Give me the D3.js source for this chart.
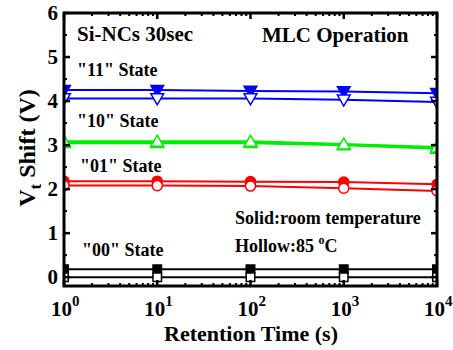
<!DOCTYPE html>
<html>
<head>
<meta charset="utf-8">
<script src="https://cdn.jsdelivr.net/npm/d3@7"></script>
<style>
  body { margin: 0; background: #fff; }
</style>
</head>
<body>
<svg id="chart" width="453" height="350"></svg>
<script>
// Retention times (s)
const times = [1, 10, 100, 1000, 10000];

// Vt shift (V), solid = room temperature, hollow = 85 C
const s11Solid = [4.25, 4.25, 4.23, 4.22, 4.18];
const s11Hollow = [4.06, 4.06, 4.06, 4.03, 3.98];
const s10Solid = [3.05, 3.05, 3.05, 3.0, 2.92];
const s10Hollow = [3.08, 3.08, 3.08, 3.02, 2.95];
const s01Solid = [2.18, 2.18, 2.17, 2.16, 2.11];
const s01Hollow = [2.08, 2.08, 2.07, 2.02, 1.96];
const s00Solid = [0.18, 0.18, 0.18, 0.18, 0.18];
const s00Hollow = [0.0, 0.0, 0.0, 0.0, 0.0];

const yTicks = [0, 1, 2, 3, 4, 5, 6];
const xTicks = [1, 10, 100, 1000, 10000];

const series = [
  { vals: s11Solid, color: "#0000ff", shape: "triDown", filled: true },
  { vals: s11Hollow, color: "#0000ff", shape: "triDown", filled: false },
  { vals: s10Solid, color: "#00ee00", shape: "triUp", filled: true },
  { vals: s10Hollow, color: "#00ee00", shape: "triUp", filled: false },
  { vals: s01Solid, color: "#ff0000", shape: "circle", filled: true },
  { vals: s01Hollow, color: "#ff0000", shape: "circle", filled: false },
  { vals: s00Solid, color: "#000000", shape: "square", filled: true },
  { vals: s00Hollow, color: "#000000", shape: "square", filled: false }
];

const FONT = "Liberation Serif";
const svg = d3.select("#chart");
const mLeft = 64, mRight = 437, mTop = 13, mBottom = 286;

const x = d3.scaleLog().domain([1, 10000]).range([mLeft, mRight]);
const y = d3.scaleLinear().domain([-0.2, 6]).range([mBottom, mTop]);

// clip markers to the frame
svg.append("clipPath").attr("id", "clip")
  .append("rect").attr("x", mLeft).attr("y", mTop)
  .attr("width", mRight - mLeft).attr("height", mBottom - mTop);

const plot = svg.append("g").attr("clip-path", "url(#clip)");

const line = d3.line().x((d, i) => x(times[i])).y(d => y(d));

const symbolFor = {
  triDown: d3.symbolTriangle,
  triUp: d3.symbolTriangle,
  circle: d3.symbolCircle,
  square: d3.symbolSquare
};

series.forEach(s => {
  plot.append("path")
    .datum(s.vals)
    .attr("fill", "none")
    .attr("stroke", s.color)
    .attr("stroke-width", s.shape === "triUp" ? 2.5 : 2)
    .attr("d", line);
});

series.forEach(s => {
  const sym = d3.symbol().type(symbolFor[s.shape])
    .size(s.shape === "square" ? 72 : s.shape === "circle" ? 80 : 70);
  plot.selectAll(null)
    .data(s.vals)
    .enter().append("path")
    .attr("d", sym)
    .attr("transform", (d, i) => `translate(${x(times[i])},${y(d) + (s.shape === "triDown" ? -1 : s.shape === "triUp" ? 1 : 0)})` + (s.shape === "triDown" ? " rotate(180)" : ""))
    .attr("fill", s.filled ? s.color : "#fff")
    .attr("stroke", s.color)
    .attr("stroke-width", 1.5);
});

// frame
svg.append("rect")
  .attr("x", mLeft).attr("y", mTop)
  .attr("width", mRight - mLeft).attr("height", mBottom - mTop)
  .attr("fill", "none").attr("stroke", "#000").attr("stroke-width", 3);

// y ticks (inward, both sides)
const yMinor = [0.5, 1.5, 2.5, 3.5, 4.5, 5.5];
const tickG = svg.append("g").attr("stroke", "#000");
yTicks.forEach(v => {
  tickG.append("line").attr("x1", mLeft).attr("x2", mLeft + 6).attr("y1", y(v)).attr("y2", y(v)).attr("stroke-width", 2.5);
  tickG.append("line").attr("x1", mRight).attr("x2", mRight - 6).attr("y1", y(v)).attr("y2", y(v)).attr("stroke-width", 2.5);
});
yMinor.forEach(v => {
  tickG.append("line").attr("x1", mLeft).attr("x2", mLeft + 3).attr("y1", y(v)).attr("y2", y(v)).attr("stroke-width", 2);
  tickG.append("line").attr("x1", mRight).attr("x2", mRight - 3).attr("y1", y(v)).attr("y2", y(v)).attr("stroke-width", 2);
});

// x ticks (inward, both sides)
const xMinor = [];
[1, 10, 100, 1000].forEach(d => { for (let k = 2; k <= 9; k++) xMinor.push(d * k); });
xTicks.forEach(v => {
  tickG.append("line").attr("x1", x(v)).attr("x2", x(v)).attr("y1", mBottom).attr("y2", mBottom - 6).attr("stroke-width", 2.5);
  tickG.append("line").attr("x1", x(v)).attr("x2", x(v)).attr("y1", mTop).attr("y2", mTop + 6).attr("stroke-width", 2.5);
});
xMinor.forEach(v => {
  tickG.append("line").attr("x1", x(v)).attr("x2", x(v)).attr("y1", mBottom).attr("y2", mBottom - 3).attr("stroke-width", 2);
  tickG.append("line").attr("x1", x(v)).attr("x2", x(v)).attr("y1", mTop).attr("y2", mTop + 3).attr("stroke-width", 2);
});

const txt = (sel) => sel.style("font-family", FONT).style("font-weight", "bold").attr("fill", "#000");

// y tick labels
txt(svg.selectAll(".ylab").data(yTicks).enter().append("text")
  .attr("x", mLeft - 6).attr("y", d => y(d) + 7)
  .attr("text-anchor", "end").attr("font-size", 21).text(d => d));

// x tick labels 10^n
xTicks.forEach(v => {
  const t = txt(svg.append("text").attr("x", x(v) - 13).attr("y", 316)
    .attr("font-size", 21));
  t.append("tspan").text("10");
  t.append("tspan").attr("dy", -10).attr("font-size", 15).text(Math.round(Math.log10(v)));
});

// axis titles
txt(svg.append("text").attr("x", 251).attr("y", 341)
  .attr("text-anchor", "middle").attr("font-size", 22).text("Retention Time (s)"));

const yt = txt(svg.append("text")
  .attr("transform", `translate(35,148) rotate(-90)`)
  .attr("text-anchor", "middle").attr("font-size", 24));
yt.append("tspan").text("V");
yt.append("tspan").attr("dy", 6).attr("font-size", 17).text("t");
yt.append("tspan").attr("dy", -6).text(" Shift (V)");

// annotations
const ann = (tx, ty, size, str) => txt(svg.append("text").attr("x", tx).attr("y", ty)
  .attr("font-size", size).text(str));
ann(77, 41, 21, "Si-NCs 30sec");
ann(262, 42, 21, "MLC Operation");
ann(77, 76, 18, "\"11\" State");
ann(77, 127, 18, "\"10\" State");
ann(80, 172, 18, "\"01\" State");
ann(82, 256, 18, "\"00\" State");
ann(235, 224, 18, "Solid:room temperature");
const h = ann(235, 252, 18, "Hollow:85 ");
h.append("tspan").attr("dy", -8).attr("font-size", 12).text("o");
h.append("tspan").attr("dy", 8).text("C");
</script>
</body>
</html>
